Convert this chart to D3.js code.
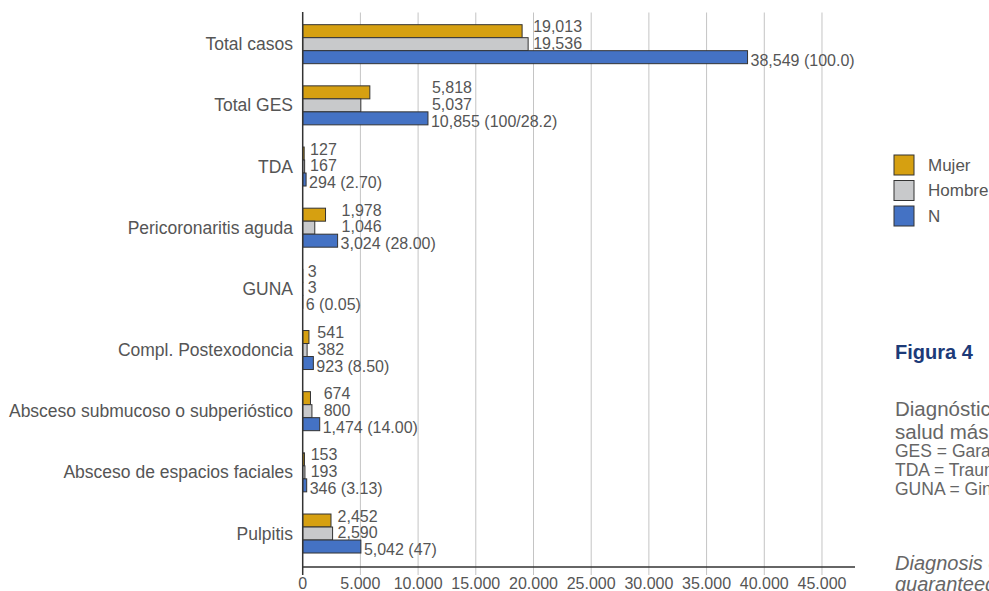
<!DOCTYPE html>
<html>
<head>
<meta charset="utf-8">
<script src="https://cdn.jsdelivr.net/npm/d3@7/dist/d3.min.js"></script>
<style>
  html, body { margin: 0; padding: 0; background: #fff; overflow: hidden; }
  svg { display: block; font-family: "Liberation Sans", Arial, sans-serif; }
</style>
</head>
<body>
<svg id="chart" width="989" height="591"></svg>
<script>
// ---- data ----
const categories = ["Total casos", "Total GES", "TDA", "Pericoronaritis aguda", "GUNA",
  "Compl. Postexodoncia", "Absceso submucoso o subperióstico", "Absceso de espacios faciales", "Pulpitis"];
const seriesNames = ["Mujer", "Hombre", "N"];
const mujer  = [19013, 5818, 127, 1978, 3, 541, 674, 153, 2452];
const hombre = [19536, 5037, 167, 1046, 3, 382, 800, 193, 2590];
const nTotal = [38549, 10855, 294, 3024, 6, 923, 1474, 346, 5042];
const nPercent = ["100.0", "100/28.2", "2.70", "28.00", "0.05", "8.50", "14.00", "3.13", "47"];
const xTicks = [0, 5000, 10000, 15000, 20000, 25000, 30000, 35000, 40000, 45000];
const xMax = 48000;
const colors = ["#d6a011", "#c8c9cb", "#4472c4"];

const figTitle = "Figura 4";
const captionLines = [
  "Diagnósticos de urgencia odontológica en el servicio de",
  "salud más",
];
const noteLines = [
  "GES = Garantías Explícitas en Salud",
  "TDA = Traumatismo dentoalveolar",
  "GUNA = Gingivitis ulcero necrótica aguda"
];
const englishLines = [
  "Diagnosis of dental emergencies in the health service",
  "guaranteed"
];

(function () {
// ---- layout ----
const svg = d3.select("#chart");
const plotLeft = 302.7, plotRight = 856.6, plotTop = 13.6, plotBottom = 564.1, axisY = 567;

const x = d3.scaleLinear().domain([0, xMax]).range([plotLeft, plotRight]);
const y = d3.scaleBand().domain(categories).range([plotTop, plotBottom]);
const groupH = 39;
const inner = d3.scaleBand().domain(seriesNames).range([0, groupH]);

const rows = categories.map((c, i) => ({
  cat: c, vals: [mujer[i], hombre[i], nTotal[i]], pct: nPercent[i]
}));

const locDot = d3.formatLocale({ decimal: ",", thousands: ".", grouping: [3] });
const fmtTick = locDot.format(",");
const fmtVal = d3.format(",");

// gridlines (extend below axis as ticks)
svg.append("g").selectAll("line").data(xTicks.slice(1)).join("line")
  .attr("x1", d => x(d)).attr("x2", d => x(d))
  .attr("y1", 12.5).attr("y2", axisY + 8)
  .attr("stroke", "#c4c4c4").attr("stroke-width", 1);

// bars
const g = svg.append("g").selectAll("g").data(rows).join("g")
  .attr("transform", d => `translate(0,${y(d.cat) + (y.bandwidth() - groupH) / 2})`);

g.selectAll("rect").data(d => d.vals.map((v, k) => ({ v, k }))).join("rect")
  .attr("x", x(0))
  .attr("y", d => inner(seriesNames[d.k]))
  .attr("width", d => x(d.v) - x(0))
  .attr("height", inner.bandwidth())
  .attr("fill", d => colors[d.k])
  .attr("stroke", "#333").attr("stroke-width", 1);

// value labels
const labelOffsets = [-17.5, -1, 16];
rows.forEach(r => {
  const [m, h, n] = r.vals;
  const mh = Math.max(m, h);
  const split = n / mh > 1.9;
  const xMH = split ? x(mh) + 5 : x(Math.max(m, h, n)) + 4;
  const xN = x(n) + 3;
  const gc = y(r.cat) + y.bandwidth() / 2;
  const texts = [fmtVal(m), fmtVal(h), `${fmtVal(n)} (${r.pct})`];
  texts.forEach((t, k) => {
    svg.append("text")
      .attr("x", k < 2 ? xMH : xN)
      .attr("y", gc + labelOffsets[k])
      .attr("dy", "0.35em")
      .attr("font-size", 16)
      .attr("fill", "#555")
      .text(t);
  });
});

// axes lines
svg.append("line").attr("x1", plotLeft).attr("x2", plotLeft).attr("y1", 12).attr("y2", axisY + 8)
  .attr("stroke", "#333").attr("stroke-width", 1.5);
svg.append("line").attr("x1", plotLeft).attr("x2", 855).attr("y1", axisY).attr("y2", axisY)
  .attr("stroke", "#333").attr("stroke-width", 1.5);

// x tick labels
svg.append("g").selectAll("text").data(xTicks).join("text")
  .attr("x", d => x(d)).attr("y", 589)
  .attr("text-anchor", "middle").attr("font-size", 16).attr("fill", "#555")
  .text(d => fmtTick(d));

// category labels
svg.append("g").selectAll("text").data(categories).join("text")
  .attr("x", 293).attr("y", d => y(d) + y.bandwidth() / 2).attr("dy", "0.35em")
  .attr("text-anchor", "end").attr("font-size", 17.5).attr("fill", "#555")
  .text(d => d);

// legend
const lg = svg.append("g").selectAll("g").data(seriesNames).join("g")
  .attr("transform", (d, i) => `translate(894,${165 + i * 25.5})`);
lg.append("rect").attr("x", 0).attr("y", -10).attr("width", 20).attr("height", 20)
  .attr("fill", (d, i) => colors[i]).attr("stroke", "#333").attr("stroke-width", 1);
lg.append("text").attr("x", 34).attr("y", 0).attr("dy", "0.35em")
  .attr("font-size", 17).attr("fill", "#555").text(d => d);

// side text
svg.append("text").attr("x", 895).attr("y", 359).attr("font-size", 20).attr("font-weight", "bold")
  .attr("fill", "#1c3a78").text(figTitle);
captionLines.forEach((t, i) => svg.append("text").attr("x", 895).attr("y", 416 + i * 23)
  .attr("font-size", 20.5).attr("fill", "#666").text(t));
noteLines.forEach((t, i) => svg.append("text").attr("x", 895).attr("y", 457 + i * 19)
  .attr("font-size", 17.5).attr("fill", "#666").text(t));
englishLines.forEach((t, i) => svg.append("text").attr("x", 895).attr("y", 570 + i * 21)
  .attr("font-size", 20).attr("font-style", "italic").attr("fill", "#666").text(t));
})();
</script>
</body>
</html>
